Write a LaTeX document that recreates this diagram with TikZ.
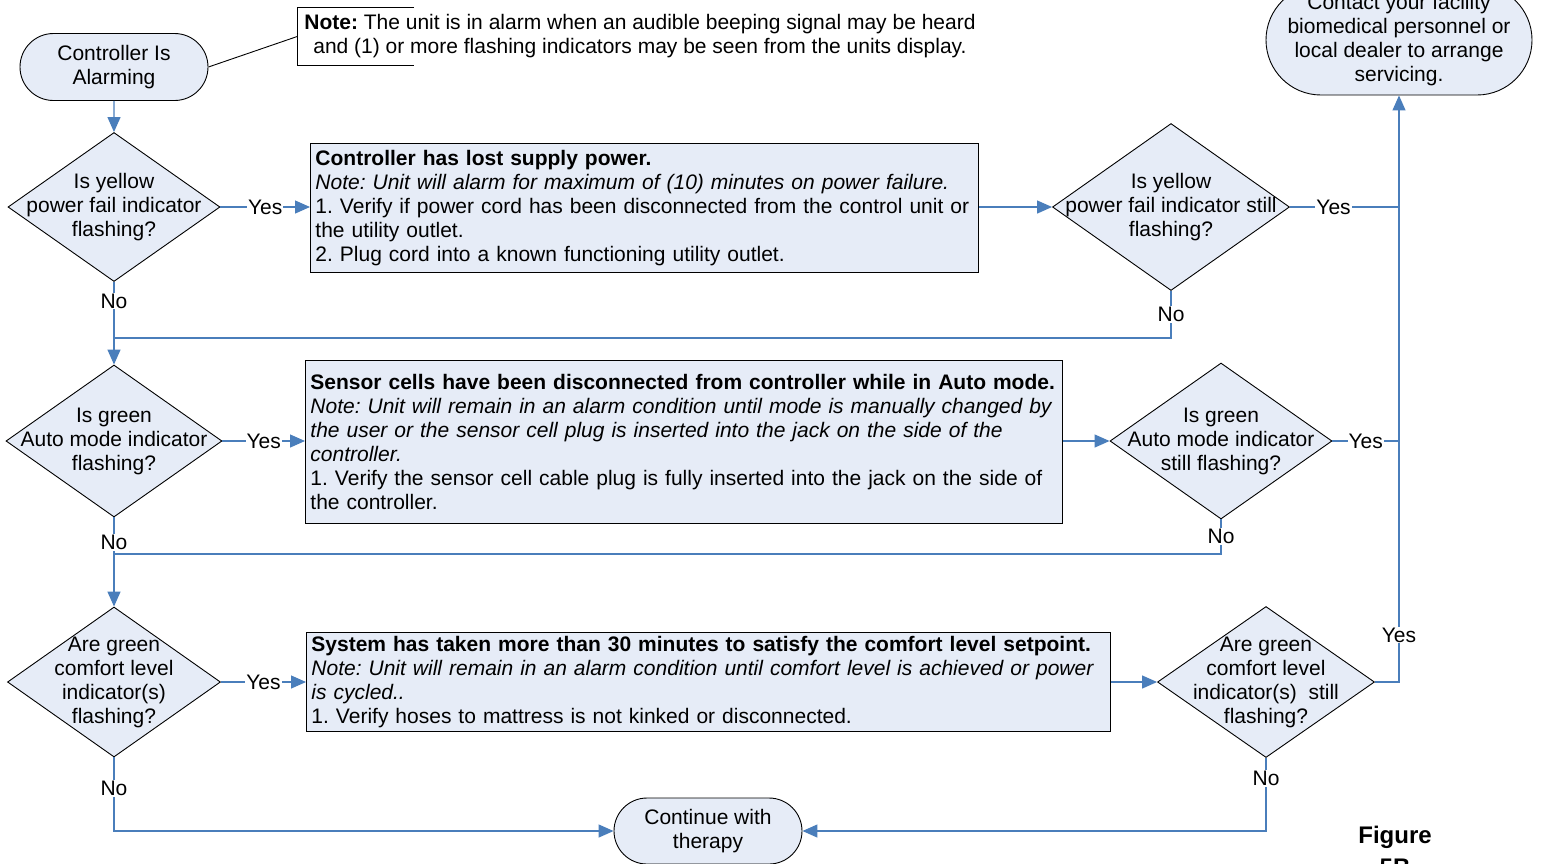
\documentclass[tikz,border=0pt]{standalone}
\usepackage{fontspec}
\setmainfont{Liberation Sans}
\usetikzlibrary{arrows.meta, positioning, shapes.geometric, shapes.misc}

\definecolor{flowblue}{RGB}{74,126,187}
\definecolor{shapefill}{RGB}{230,236,247}

\tikzset{
    flow/.style={draw=flowblue, line width=1.3pt},
    arr/.style={flow, -{Triangle[length=15pt,width=13pt]}},
    terminal/.style={rounded rectangle, draw, line width=0.9pt, fill=shapefill, align=center, inner sep=2pt},
    decision/.style={diamond, draw, line width=0.9pt, fill=shapefill, inner sep=0pt},
    actionbox/.style={rectangle, draw, line width=0.9pt, fill=shapefill, align=left, anchor=north west, inner xsep=5pt, inner ysep=2pt},
    lbl/.style={fill=white, inner sep=1pt},
}

\begin{document}
\frenchspacing
\begin{tikzpicture}[x=1pt, y=-1pt, font=\fontsize{21pt}{24pt}\selectfont]
    \useasboundingbox (0,0) rectangle (1544,863);

    % Terminals
    \node[terminal, minimum width=192pt, minimum height=67pt] (start) at (114,67) {Controller Is\\Alarming};
    \node[terminal, inner xsep=-3pt, minimum width=266pt, minimum height=110pt] (contact) at (1399,40)
        {Contact your facility\\biomedical personnel or\\local dealer to arrange\\servicing.};
    \node[terminal, minimum width=192pt, minimum height=66pt] (finish) at (708,831) {Continue with\\therapy};

    % Note bracket
    \node[align=center, inner xsep=7pt, inner ysep=0pt, minimum height=57pt] (note) at (640,36.5)
        {\textbf{Note:} The unit is in alarm when an audible beeping signal may be heard\\
         and (1) or more flashing indicators may be seen from the units display.};
    \draw[line width=0.9pt] ([xshift=117pt]note.north west) -- (note.north west) -- (note.south west) -- ++(117,0);
    \draw[line width=0.9pt] (start.east) -- (note.west);

    % Decisions
    \node[decision, minimum width=212pt, minimum height=149pt,
          label={[align=center]center:Is yellow\\power fail indicator\\flashing?}] (d1) at (114,207) {};
    \node[decision, minimum width=237pt, minimum height=167pt,
          label={[align=center]center:Is yellow\\power fail indicator still\\flashing?}] (d2) at (1171,207) {};
    \node[decision, minimum width=216pt, minimum height=152pt,
          label={[align=center]center:Is green\\Auto mode indicator\\flashing?}] (d3) at (114,441) {};
    \node[decision, minimum width=222pt, minimum height=156pt,
          label={[align=center]center:Is green\\Auto mode indicator\\still flashing?}] (d4) at (1221,441) {};
    \node[decision, minimum width=213pt, minimum height=150pt,
          label={[align=center]center:Are green\\comfort level\\indicator(s)\\flashing?}] (d5) at (114,682) {};
    \node[decision, minimum width=217pt, minimum height=151pt,
          label={[align=center]center:Are green\\comfort level\\indicator(s)~ still\\flashing?}] (d6) at (1266,682) {};

    % Action boxes
    \node[actionbox, minimum width=668pt, minimum height=129pt, text width=658pt] (b1) at (310,143)
        {\textbf{Controller has lost supply power.}\\
         \textit{Note: Unit will alarm for maximum of (10) minutes on power failure.}\\
         1. Verify if power cord has been disconnected from the control unit or\\
         the utility outlet.\\
         2. Plug cord into a known functioning utility outlet.};
    \node[actionbox, minimum width=757pt, minimum height=163pt, text width=747pt] (b2) at (305,360)
        {\textbf{Sensor cells have been disconnected from controller while in Auto mode.}\\
         \textit{Note: Unit will remain in an alarm condition until mode is manually changed by}\\
         \textit{the user or the sensor cell plug is inserted into the jack on the side of the}\\
         \textit{controller.}\\
         1. Verify the sensor cell cable plug is fully inserted into the jack on the side of\\
         the controller.};
    \node[actionbox, minimum width=804pt, minimum height=99pt, text width=794pt] (b3) at (306,632)
        {\textbf{System has taken more than 30 minutes to satisfy the comfort level setpoint.}\\
         \textit{Note: Unit will remain in an alarm condition until comfort level is achieved or power}\\
         \textit{is cycled..}\\
         1. Verify hoses to mattress is not kinked or disconnected.};

    % Figure caption
    \node[font=\fontsize{24pt}{32pt}\selectfont\bfseries, align=center] (caption) at (1395,851) {Figure\\5B};

    % Junctions
    \coordinate (j1) at (114,338);
    \coordinate (j2) at (114,554);

    % Connectors
    \draw[arr] (start) -- (d1);
    \draw[arr] (d1.east) -- (b1.west |- d1.east) node[midway, lbl] {Yes};
    \draw[arr] (b1.east |- d2.west) -- (d2.west);
    \draw[flow] (d2.east) -- (d2.east -| contact.south) node[pos=0.4, lbl] {Yes};
    \draw[arr] (d6.east) -| (contact.south) node[pos=0.54, lbl] {Yes};
    \draw[flow] (d4.east) -- (d4.east -| contact.south) node[midway, lbl] {Yes};

    \draw[arr] (d1.south) -- (d3.north) node[pos=0.23, lbl] {No};
    \draw[flow] (d2.south) |- (j1) node[pos=0.25, lbl] {No};

    \draw[arr] (d3.east) -- (b2.west |- d3.east) node[midway, lbl] {Yes};
    \draw[arr] (b2.east |- d4.west) -- (d4.west);
    \draw[arr] (d3.south) -- (d5.north) node[pos=0.28, lbl] {No};
    \draw[flow] (d4.south) |- (j2) node[pos=0.25, lbl] {No};

    \draw[arr] (d5.east) -- (b3.west |- d5.east) node[midway, lbl] {Yes};
    \draw[arr] (b3.east |- d6.west) -- (d6.west);
    \draw[arr] (d5.south) |- (finish.west) node[pos=0.21, lbl] {No};
    \draw[arr] (d6.south) |- (finish.east) node[pos=0.14, lbl] {No};

\end{tikzpicture}
\end{document}
